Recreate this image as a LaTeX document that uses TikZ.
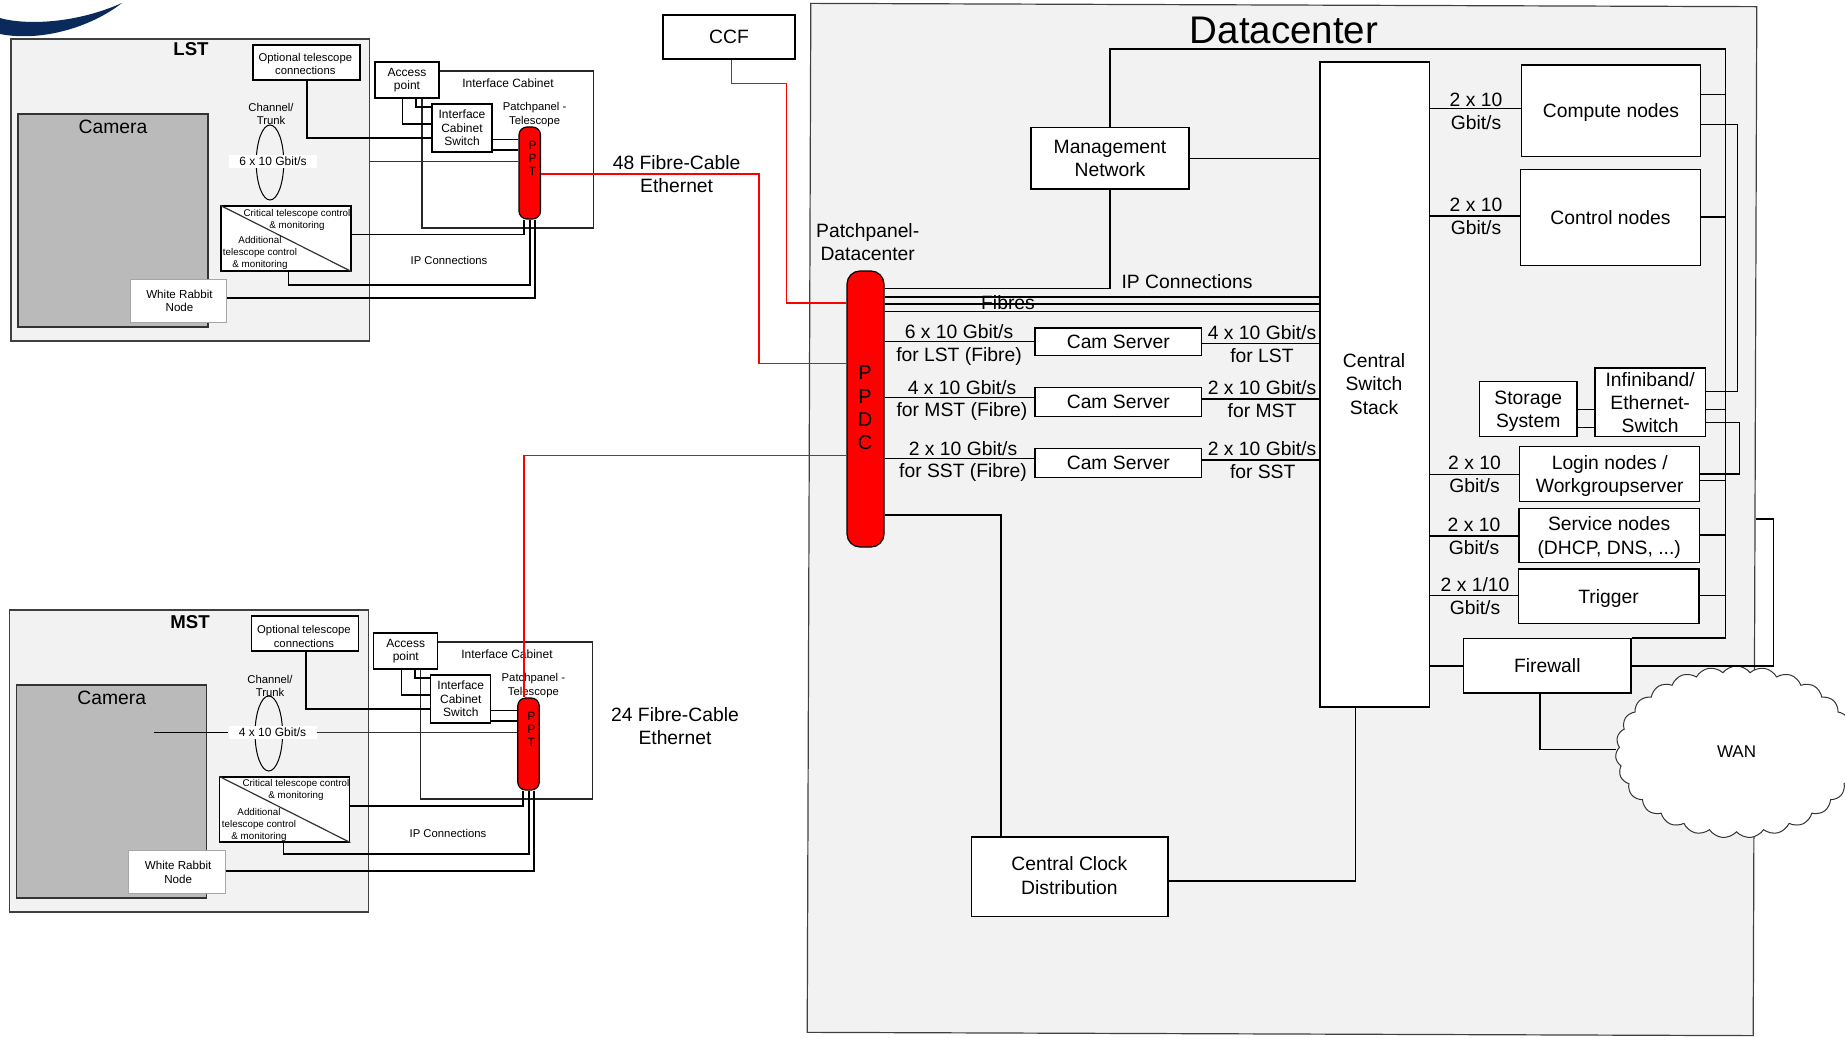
\documentclass[tikz,border=0pt]{standalone}
\usepackage{fontspec}
\setmainfont{Liberation Sans}
\usepackage{xcolor}
\definecolor{panelgray}{HTML}{F2F2F2}
\definecolor{camgray}{HTML}{BABABA}
\definecolor{logoblue}{HTML}{0B2A5C}
\usetikzlibrary{positioning,shapes.geometric,shapes.symbols}

\begin{document}
\begin{tikzpicture}[
    x=1pt, y=-1pt,
    panel/.style={rectangle, draw=black!75, fill=panelgray, line width=1.2pt, inner sep=0pt},
    camera/.style={rectangle, draw=black!80, fill=camgray, line width=1.2pt, inner sep=0pt},
    box/.style={rectangle, draw=black, fill=white, line width=1.5pt, inner sep=0pt, align=center, font=\fontsize{19.3}{23.2}\selectfont},
    smallbox/.style={rectangle, draw=black, fill=white, line width=1.2pt, inner sep=0pt, align=center, font=\fontsize{11.3}{13.7}\selectfont},
    midbox/.style={smallbox, font=\fontsize{12}{13.7}\selectfont},
    rabbit/.style={smallbox, draw=black!35, line width=1pt, font=\fontsize{11.6}{13.7}\selectfont},
    pillar/.style={rectangle, draw=black, fill=red, line width=1.2pt, inner sep=0pt},
    cabinet/.style={rectangle, draw=black!85, line width=1.1pt, inner sep=0pt},
    rate/.style={rectangle, fill=white, inner sep=0pt, font=\fontsize{12}{13.7}\selectfont},
    trunk/.style={ellipse, draw=black, line width=1pt, inner sep=0pt},
    bigtxt/.style={inner sep=0pt, align=center, font=\fontsize{19.3}{23.2}\selectfont},
    smalltxt/.style={inner sep=0pt, align=center, font=\fontsize{11.3}{13.7}\selectfont},
    tinytxt/.style={inner sep=0pt, align=center, font=\fontsize{9.8}{12.2}\selectfont},
    headtxt/.style={inner sep=0pt, font=\bfseries\fontsize{18.6}{22}\selectfont},
    wire/.style={draw=black, line width=1.4pt},
    thinwire/.style={draw=black!80, line width=1pt},
    fibre/.style={draw=red, line width=1.4pt}
]
\useasboundingbox (0,0) rectangle (1845,1038);
\clip (0,0) rectangle (1845,1038);

% ============== LOGO ==============
\fill[logoblue] (0,18) .. controls (20,24) and (70,26) .. (122,3)
    .. controls (90,28) and (40,42) .. (0,34) -- cycle;

% ============== LST TELESCOPE ==============
\node[panel, minimum width=358.5, minimum height=302] (lstPanel) at (190.25,190) {};
\node[camera, minimum width=190, minimum height=213] (lstCamera) at (113,220.5) {};
\node[headtxt] (lstHead) at (191,49) {LST};
\node[bigtxt] (lstCamLabel) at (113,127) {Camera};
\node[smallbox, minimum width=107, minimum height=35] (lstOptional) at (306.5,62.5) {};
\node[smalltxt] (lstOptLabel) at (305.3,64) {Optional telescope\\connections};
\node[trunk, minimum width=27.5, minimum height=75] (lstTrunk) at (270,162.5) {};
\node[smalltxt] (lstChannel) at (271,114) {Channel/\\Trunk};
\node[rate, minimum width=88, minimum height=13] (lstRate) at (273,161.5) {6 x 10 Gbit/s};
\node[smallbox, minimum width=130, minimum height=65] (lstCritical) at (286,238.5) {};
\draw[thinwire, line width=1.2pt] (lstCritical.north west) -- (lstCritical.south east);
\node[tinytxt] (lstCritLabel) at (297,220) {Critical telescope control\\\& monitoring};
\node[tinytxt] (lstAddLabel) at (260,253) {Additional\\telescope control\\\& monitoring};
\node[rabbit, minimum width=96.5, minimum height=43] (lstRabbit) at (178.25,300.5) {};
\node[smalltxt, font=\fontsize{11.6}{13.7}\selectfont] (lstRabbitLabel) at (179.5,301) {White Rabbit\\Node};

\node[cabinet, minimum width=171.5, minimum height=157] (lstCabinet) at (507.75,149.5) {};
\node[midbox, minimum width=64, minimum height=36] (lstAccess) at (407,80) {Access\\point};
\node[inner sep=0pt, font=\fontsize{12}{14}\selectfont] (lstCabLabel) at (508,83) {Interface Cabinet};
\node[midbox, minimum width=60, minimum height=48] (lstSwitch) at (462,128) {Interface\\Cabinet\\Switch};
\node[smalltxt] (lstPatch) at (534.6,114.5) {Patchpanel -\\Telescope};
\node[inner sep=0pt, font=\fontsize{11.3}{14}\selectfont] (lstIp) at (449,260) {IP Connections};

\node[pillar, rounded corners=8pt, minimum width=21.5, minimum height=92] (lstPpt) at (529.75,173) {};
\node[inner sep=0pt, align=center, font=\fontsize{12}{13}\selectfont] (lstPptLabel) at (532.6,158) {P\\P\\T};

% Optional connections -> Cabinet switch
\draw[wire] (lstOptional.south -| 307,0) |- (lstSwitch.west |- 0,138);
% Access point -> Cabinet switch
\draw[wire] (lstAccess.south -| 402.5,0) |- (lstSwitch.west |- 0,124);
\draw[wire] (lstAccess.south -| 416,0) |- (lstSwitch.west |- 0,107);
% Cabinet switch -> PPT
\draw[wire] (lstSwitch.east |- 0,139.5) -- (lstPpt.west |- 0,139.5);
\draw[wire] (lstSwitch.east |- 0,150) -- (lstPpt.west |- 0,150);
% Camera trunk -> PPT
\draw[thinwire] (lstPanel.east |- 0,162) -- (lstPpt.west |- 0,162);
% Telescope control -> PPT
\draw[wire] (lstCritical.east |- 0,234.5) -| (lstPpt.south -| 524,0);
\draw[wire] (lstCritical.south -| 288.6,0) |- (530,285) -- (lstPpt.south -| 530,0);
% White Rabbit -> PPT
\draw[wire] (lstRabbit.east |- 0,298) -| (lstPpt.south -| 535,0);

% ============== MST TELESCOPE ==============
\node[panel, minimum width=358.5, minimum height=302] (mstPanel) at (189,761) {};
\node[camera, minimum width=190, minimum height=213] (mstCamera) at (111.8,791.5) {};
\node[headtxt] (mstHead) at (190,622) {MST};
\node[bigtxt] (mstCamLabel) at (111.8,698) {Camera};
\node[smallbox, minimum width=107, minimum height=35] (mstOptional) at (305.3,633.5) {};
\node[smalltxt] (mstOptLabel) at (304,636.5) {Optional telescope\\connections};
\node[trunk, minimum width=27.5, minimum height=75] (mstTrunk) at (268.8,733.5) {};
\node[smalltxt] (mstChannel) at (270,686) {Channel/\\Trunk};
\node[rate, minimum width=88, minimum height=13] (mstRate) at (272.5,732.5) {4 x 10 Gbit/s};
\node[smallbox, minimum width=130, minimum height=65] (mstCritical) at (284.8,809.5) {};
\draw[thinwire, line width=1.2pt] (mstCritical.north west) -- (mstCritical.south east);
\node[tinytxt] (mstCritLabel) at (296,790) {Critical telescope control\\\& monitoring};
\node[tinytxt] (mstAddLabel) at (259,825) {Additional\\telescope control\\\& monitoring};
\node[rabbit, minimum width=96.5, minimum height=43] (mstRabbit) at (177,871.5) {};
\node[smalltxt, font=\fontsize{11.6}{13.7}\selectfont] (mstRabbitLabel) at (178.2,872) {White Rabbit\\Node};

\node[cabinet, minimum width=171.5, minimum height=157] (mstCabinet) at (506.5,720.5) {};
\node[midbox, minimum width=64, minimum height=36] (mstAccess) at (405.8,651) {Access\\point};
\node[inner sep=0pt, font=\fontsize{12}{14}\selectfont] (mstCabLabel) at (507,654) {Interface Cabinet};
\node[midbox, minimum width=60, minimum height=48] (mstSwitch) at (460.8,699) {Interface\\Cabinet\\Switch};
\node[smalltxt] (mstPatch) at (533.4,685.5) {Patchpanel -\\Telescope};
\node[inner sep=0pt, font=\fontsize{11.3}{14}\selectfont] (mstIp) at (448,833) {IP Connections};

\node[pillar, rounded corners=8pt, minimum width=21.5, minimum height=92] (mstPpt) at (528.5,744) {};
\node[inner sep=0pt, align=center, font=\fontsize{12}{13}\selectfont] (mstPptLabel) at (531.4,729) {P\\P\\T};

% Optional connections -> Cabinet switch
\draw[wire] (mstOptional.south -| 305.8,0) |- (mstSwitch.west |- 0,709);
% Access point -> Cabinet switch
\draw[wire] (mstAccess.south -| 401.3,0) |- (mstSwitch.west |- 0,695);
\draw[wire] (mstAccess.south -| 414.8,0) |- (mstSwitch.west |- 0,678);
% Cabinet switch -> PPT
\draw[wire] (mstSwitch.east |- 0,710.5) -- (mstPpt.west |- 0,710.5);
\draw[wire] (mstSwitch.east |- 0,721) -- (mstPpt.west |- 0,721);
% Camera trunk -> PPT
\coordinate (mstCamLink) at (154,732.5);
\draw[thinwire, draw=black] (mstCamLink) -- (mstRate.west);
\draw[thinwire] (mstRate.east) -- (mstPpt.west |- mstRate.east);
% Telescope control -> PPT
\draw[wire] (mstCritical.east |- 0,806) -| (mstPpt.south -| 522.8,0);
\draw[wire] (mstCritical.south -| 283.5,0) |- (528.8,854) -- (mstPpt.south -| 528.8,0);
% White Rabbit -> PPT
\draw[wire] (mstRabbit.east |- 0,871) -| (mstPpt.south -| 533.8,0);

% ============== DATACENTER ==============
\node[panel, rotate=-0.2, minimum width=946, minimum height=1029] (dcPanel) at (1282,519.5) {};
\node[inner sep=0pt, font=\fontsize{38.5}{44}\selectfont] (dcHead) at (1284,30) {Datacenter};
\node[box, minimum width=132, minimum height=44] (ccf) at (729,37) {CCF};
\node[box, minimum width=158, minimum height=61.5] (mgmt) at (1110,158.25) {Management\\Network};
\node[box, minimum width=109.5, minimum height=645] (cswitch) at (1374.75,384.5) {};
\node[bigtxt] (cswitchLabel) at (1374,384) {Central\\Switch\\Stack};

\node[bigtxt] (patchDc) at (867.7,242) {Patchpanel-\\Datacenter};
\node[pillar, rounded corners=13pt, minimum width=37, minimum height=276] (ppdc) at (865.5,409) {};
\node[inner sep=0pt, align=center, font=\fontsize{20}{23.4}\selectfont] (ppdcLabel) at (865,408) {P\\P\\D\\C};

\node[box, minimum width=166.6, minimum height=27.6] (camLst) at (1118.3,341.8) {Cam Server};
\node[box, minimum width=166.6, minimum height=28.9] (camMst) at (1118.3,402.15) {Cam Server};
\node[box, minimum width=166.6, minimum height=29.3] (camSst) at (1118.3,463) {Cam Server};

\node[box, text depth=0pt, minimum width=179.4, minimum height=91.7] (compute) at (1611,110.85) {Compute nodes};
\node[box, minimum width=179.7, minimum height=96] (control) at (1610.5,217.3) {Control nodes};
\node[box, text depth=0pt, minimum width=97.6, minimum height=55] (storage) at (1528.2,409.2) {Storage\\System};
\node[box, minimum width=110.3, minimum height=68.7] (ib) at (1650.1,402.35) {Infiniband/\\Ethernet-\\Switch};
\node[box, text depth=0pt, minimum width=180, minimum height=54.6] (login) at (1609.7,474) {Login nodes /\\Workgroupserver};
\node[box, text depth=0pt, minimum width=180.4, minimum height=54.4] (service) at (1609.2,535.5) {Service nodes\\(DHCP, DNS, ...)};
\node[box, text depth=0pt, minimum width=180.7, minimum height=54.3] (trigger) at (1608.6,596.2) {Trigger};
\node[box, minimum width=196.4, minimum height=79.7] (clock) at (1069.6,876.8) {};
\node[bigtxt] (clockLabel) at (1069.4,875.5) {Central Clock\\Distribution};

% Link labels
\node[bigtxt] (ipDc) at (1187,282) {IP Connections};
\node[bigtxt] (rateA) at (959,332) {6 x 10 Gbit/s};
\node[bigtxt] (forA) at (959,356.5) {for LST (Fibre)};
\node[bigtxt] (rateB) at (962,387.6) {4 x 10 Gbit/s};
\node[bigtxt] (forB) at (962,412) {for MST (Fibre)};
\node[bigtxt] (rateC) at (963,448.7) {2 x 10 Gbit/s};
\node[bigtxt] (forC) at (963,473) {for SST (Fibre)};
\node[bigtxt] (rateD) at (1262,332.4) {4 x 10 Gbit/s};
\node[bigtxt] (forD) at (1262,356) {for LST};
\node[bigtxt] (rateE) at (1262,388) {2 x 10 Gbit/s};
\node[bigtxt] (forE) at (1262,410.5) {for MST};
\node[bigtxt] (rateF) at (1262,448.4) {2 x 10 Gbit/s};
\node[bigtxt] (forF) at (1262.7,472) {for SST};
\node[bigtxt] (rateCompute) at (1476,111.5) {2 x 10\\Gbit/s};
\node[bigtxt] (rateControl) at (1476,216.7) {2 x 10\\Gbit/s};
\node[bigtxt] (rateLogin) at (1474.5,474) {2 x 10\\Gbit/s};
\node[bigtxt] (rateService) at (1474,536) {2 x 10\\Gbit/s};
\node[bigtxt] (rateTrigger) at (1475,596.2) {2 x 1/10\\Gbit/s};
\node[bigtxt] (fibreA) at (676.6,174) {48 Fibre-Cable\\Ethernet};
\node[bigtxt] (fibreB) at (675,726) {24 Fibre-Cable\\Ethernet};

% Fibres -> Central switch
\node[bigtxt] (fibresLabel) at (1008,303) {Fibres};
\draw[wire] (ppdc.east |- 0,297) -- (cswitch.west |- 0,297);
\draw[wire] (ppdc.east |- 0,304) -- (cswitch.west |- 0,304);
\draw[wire] (ppdc.east |- 0,311.7) -- (cswitch.west |- 0,311.7);

% PPDC -> Cam servers -> Central switch
\draw[wire] (ppdc.east |- 0,341.6) -- (camLst.west |- 0,341.6);
\draw[wire] (ppdc.east |- 0,397.3) -- (camMst.west |- 0,397.3);
\draw[wire] (ppdc.east |- 0,458.4) -- (camSst.west |- 0,458.4);
\draw[wire] (camLst.east |- 0,343.5) -- (cswitch.west |- 0,343.5);
\draw[wire] (camMst.east |- 0,398.8) -- (cswitch.west |- 0,398.8);
\draw[wire] (camSst.east |- 0,459.8) -- (cswitch.west |- 0,459.8);

% Management network
\draw[wire] (ppdc.east |- 0,288.6) -| (mgmt.south);
\draw[wire] (mgmt.east) -- (cswitch.west |- mgmt.east);

% Central switch -> nodes
\draw[wire] (cswitch.east |- 0,108.3) -- (compute.west |- 0,108.3);
\draw[wire] (cswitch.east |- 0,216) -- (control.west |- 0,216);
\draw[wire] (cswitch.east |- 0,474.7) -- (login.west |- 0,474.7);
\draw[wire] (cswitch.east |- 0,536) -- (service.west |- 0,536);
\draw[wire] (cswitch.east |- 0,595.7) -- (trigger.west |- 0,595.7);

% Infiniband links
\draw[wire] (compute.east |- 0,124.3) -| (1737.6,391.7) -- (ib.east |- 0,391.7);
\draw[wire] (ib.east |- 0,422.7) -| (1739.4,474) -- (login.east |- 0,474);
\draw[wire] (storage.east |- 0,409.3) -- (ib.west |- 0,409.3);
\draw[wire] (storage.east |- 0,427.3) -- (ib.west |- 0,427.3);

% Clock distribution
\draw[wire] (ppdc.east |- 0,515) -| (clock.north -| 1001,0);
\draw[wire] (clock.east |- 0,881) -| (cswitch.south -| 1355.3,0);

% ============== WAN ==============
\node[cloud, draw=black!80, fill=white, line width=1pt, cloud puffs=27, cloud puff arc=105, aspect=1.4, inner sep=0pt, minimum width=242, minimum height=172, font=\fontsize{17}{20}\selectfont] (wan) at (1736.5,752) {WAN};
\node[box, minimum width=167.3, minimum height=54.3] (firewall) at (1547.3,665.85) {Firewall};

% Firewall links
\draw[wire] (cswitch.east |- firewall.west) -- (firewall.west);
\draw[wire] (firewall.south -| 1540,0) |- (wan.west |- 0,749.7);
\draw[wire] (firewall.east) -| (1773.4,519) -- (dcPanel.east |- 0,519);

% Management bus round the nodes
\draw[wire] (mgmt.north) |- (1725.5,49) |- (firewall.north east);
\draw[wire] (compute.east |- 0,94.3) -- (1725.5,94.3);
\draw[wire] (control.east |- 0,217) -- (1725.5,217);
\draw[wire] (ib.east |- 0,409.3) -- (1725.5,409.3);
\draw[wire] (login.east |- 0,480.7) -- (1725.5,480.7);
\draw[wire] (service.east |- 0,535) -- (1725.5,535);
\draw[wire] (trigger.east |- 0,595.7) -- (1725.5,595.7);

% Red fibre runs
\draw[fibre] (ccf.south -| 731.5,0) |- (786.4,83.5) |- (ppdc.west |- 0,303);
\draw[fibre] (lstPpt.east |- 0,174) -| (759,363.4) -- (ppdc.west |- 0,363.4);
\draw[fibre] (ppdc.west |- 0,455.5) -| (mstPpt.north -| 524,0);

\end{tikzpicture}
\end{document}
